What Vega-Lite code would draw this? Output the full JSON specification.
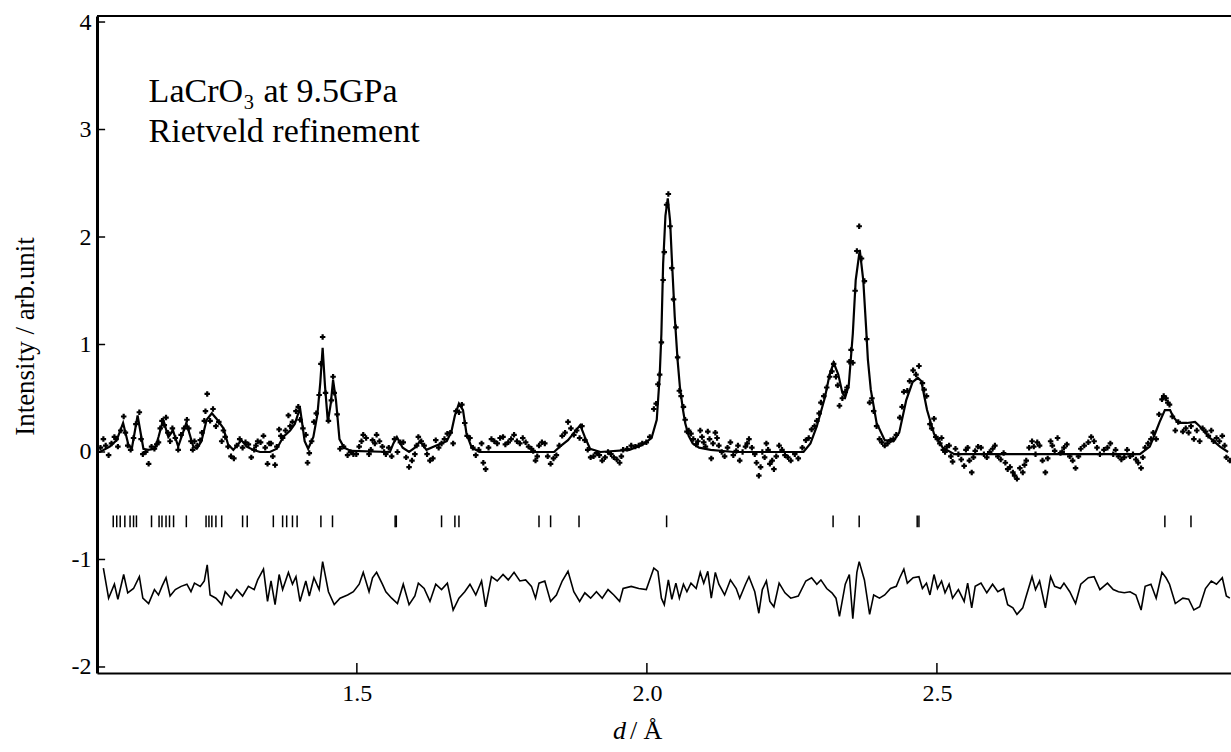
{
  "$schema": "https://vega.github.io/schema/vega-lite/v6.json",
  "width": 1134,
  "height": 657,
  "autosize": {"type": "none"},
  "padding": {"left": 97, "top": 16, "right": 0, "bottom": 79},
  "background": "white",
  "config": {
    "view": {"stroke": null},
    "font": "Liberation Serif",
    "axis": {"labelFont": "Liberation Serif", "titleFont": "Liberation Serif", "titleFontWeight": "normal", "labelColor": "black", "titleColor": "black", "domainColor": "black", "tickColor": "black", "grid": false}
  },
  "datasets": {
    "calc": [
      {"d":1.052,"v":0.0},{"d":1.057,"v":0.0},{"d":1.074,"v":0.05},{"d":1.086,"v":0.11},{"d":1.097,"v":0.27},{"d":1.106,"v":0.07},{"d":1.112,"v":0.03},{"d":1.122,"v":0.34},{"d":1.132,"v":0.03},{"d":1.140,"v":0.02},{"d":1.152,"v":0.03},{"d":1.158,"v":0.14},{"d":1.166,"v":0.30},{"d":1.175,"v":0.14},{"d":1.183,"v":0.20},{"d":1.192,"v":0.05},{"d":1.206,"v":0.27},{"d":1.218,"v":0.05},{"d":1.224,"v":0.03},{"d":1.232,"v":0.10},{"d":1.241,"v":0.30},{"d":1.250,"v":0.36},{"d":1.258,"v":0.31},{"d":1.270,"v":0.22},{"d":1.278,"v":0.07},{"d":1.287,"v":0.02},{"d":1.301,"v":0.11},{"d":1.310,"v":0.05},{"d":1.321,"v":0.02},{"d":1.333,"v":0.0},{"d":1.350,"v":0.0},{"d":1.362,"v":0.03},{"d":1.373,"v":0.14},{"d":1.385,"v":0.20},{"d":1.393,"v":0.26},{"d":1.402,"v":0.41},{"d":1.410,"v":0.10},{"d":1.416,"v":0.03},{"d":1.425,"v":0.14},{"d":1.432,"v":0.35},{"d":1.437,"v":0.65},{"d":1.441,"v":0.97},{"d":1.445,"v":0.62},{"d":1.450,"v":0.28},{"d":1.455,"v":0.45},{"d":1.459,"v":0.67},{"d":1.464,"v":0.48},{"d":1.470,"v":0.12},{"d":1.478,"v":0.04},{"d":1.490,"v":0.01},{"d":1.557,"v":0.0},{"d":1.563,"v":0.08},{"d":1.569,"v":0.14},{"d":1.579,"v":0.04},{"d":1.590,"v":0.0},{"d":1.600,"v":0.04},{"d":1.609,"v":0.10},{"d":1.620,"v":0.02},{"d":1.637,"v":0.06},{"d":1.655,"v":0.10},{"d":1.663,"v":0.19},{"d":1.669,"v":0.34},{"d":1.676,"v":0.45},{"d":1.683,"v":0.39},{"d":1.689,"v":0.17},{"d":1.698,"v":0.04},{"d":1.712,"v":0.0},{"d":1.840,"v":0.0},{"d":1.850,"v":0.05},{"d":1.864,"v":0.11},{"d":1.876,"v":0.19},{"d":1.885,"v":0.25},{"d":1.893,"v":0.14},{"d":1.902,"v":0.03},{"d":1.920,"v":0.0},{"d":1.970,"v":0.02},{"d":1.993,"v":0.07},{"d":2.008,"v":0.13},{"d":2.017,"v":0.30},{"d":2.022,"v":0.70},{"d":2.025,"v":1.10},{"d":2.028,"v":1.75},{"d":2.032,"v":2.20},{"d":2.036,"v":2.36},{"d":2.040,"v":2.15},{"d":2.043,"v":1.80},{"d":2.048,"v":1.26},{"d":2.053,"v":0.85},{"d":2.057,"v":0.60},{"d":2.062,"v":0.40},{"d":2.066,"v":0.27},{"d":2.072,"v":0.15},{"d":2.079,"v":0.08},{"d":2.090,"v":0.04},{"d":2.110,"v":0.02},{"d":2.150,"v":0.0},{"d":2.270,"v":0.0},{"d":2.282,"v":0.08},{"d":2.293,"v":0.24},{"d":2.307,"v":0.51},{"d":2.315,"v":0.72},{"d":2.322,"v":0.83},{"d":2.330,"v":0.72},{"d":2.337,"v":0.55},{"d":2.342,"v":0.51},{"d":2.348,"v":0.62},{"d":2.355,"v":1.10},{"d":2.360,"v":1.60},{"d":2.367,"v":1.88},{"d":2.373,"v":1.60},{"d":2.378,"v":1.15},{"d":2.381,"v":0.86},{"d":2.386,"v":0.58},{"d":2.396,"v":0.27},{"d":2.410,"v":0.11},{"d":2.425,"v":0.10},{"d":2.435,"v":0.18},{"d":2.447,"v":0.48},{"d":2.458,"v":0.65},{"d":2.467,"v":0.69},{"d":2.473,"v":0.66},{"d":2.483,"v":0.39},{"d":2.495,"v":0.17},{"d":2.510,"v":0.04},{"d":2.530,"v":-0.02},{"d":2.850,"v":-0.02},{"d":2.867,"v":0.05},{"d":2.876,"v":0.17},{"d":2.884,"v":0.28},{"d":2.893,"v":0.39},{"d":2.902,"v":0.39},{"d":2.907,"v":0.33},{"d":2.916,"v":0.27},{"d":2.931,"v":0.27},{"d":2.945,"v":0.28},{"d":2.953,"v":0.24},{"d":2.971,"v":0.13},{"d":2.988,"v":0.05},{"d":3.002,"v":0.0}
    ],
    "obs": [
      {"d":1.063,"v":0.12},{"d":1.072,"v":-0.03},{"d":1.082,"v":0.14},{"d":1.088,"v":0.05},{"d":1.098,"v":0.33},{"d":1.105,"v":0.06},{"d":1.115,"v":0.13},{"d":1.125,"v":0.37},{"d":1.131,"v":-0.02},{"d":1.141,"v":-0.11},{"d":1.151,"v":0.03},{"d":1.158,"v":0.09},{"d":1.164,"v":0.29},{"d":1.171,"v":0.32},{"d":1.178,"v":0.10},{"d":1.187,"v":0.13},{"d":1.197,"v":0.16},{"d":1.207,"v":0.30},{"d":1.214,"v":0.10},{"d":1.220,"v":0.10},{"d":1.230,"v":0.11},{"d":1.237,"v":0.29},{"d":1.242,"v":0.54},{"d":1.247,"v":0.29},{"d":1.257,"v":0.24},{"d":1.267,"v":0.10},{"d":1.273,"v":0.14},{"d":1.283,"v":-0.04},{"d":1.293,"v":0.06},{"d":1.303,"v":0.04},{"d":1.313,"v":0.07},{"d":1.323,"v":0.02},{"d":1.329,"v":0.10},{"d":1.339,"v":0.15},{"d":1.346,"v":-0.11},{"d":1.352,"v":0.08},{"d":1.359,"v":-0.12},{"d":1.366,"v":0.21},{"d":1.372,"v":0.13},{"d":1.382,"v":0.34},{"d":1.389,"v":0.28},{"d":1.395,"v":0.38},{"d":1.402,"v":0.30},{"d":1.412,"v":0.16},{"d":1.418,"v":-0.01},{"d":1.426,"v":0.28},{"d":1.435,"v":0.53},{"d":1.441,"v":1.07},{"d":1.451,"v":0.29},{"d":1.461,"v":0.55},{"d":1.471,"v":0.03},{"d":1.484,"v":-0.03},{"d":1.494,"v":-0.02},{"d":1.504,"v":0.05},{"d":1.511,"v":0.16},{"d":1.521,"v":-0.02},{"d":1.527,"v":0.11},{"d":1.534,"v":0.16},{"d":1.544,"v":0.05},{"d":1.550,"v":-0.02},{"d":1.560,"v":-0.04},{"d":1.570,"v":0.00},{"d":1.580,"v":0.09},{"d":1.590,"v":-0.14},{"d":1.600,"v":-0.02},{"d":1.606,"v":0.14},{"d":1.616,"v":0.06},{"d":1.626,"v":-0.08},{"d":1.636,"v":0.11},{"d":1.646,"v":0.08},{"d":1.656,"v":0.17},{"d":1.666,"v":0.08},{"d":1.676,"v":0.37},{"d":1.686,"v":0.27},{"d":1.695,"v":0.13},{"d":1.705,"v":-0.03},{"d":1.715,"v":0.08},{"d":1.722,"v":-0.16},{"d":1.732,"v":0.12},{"d":1.742,"v":0.08},{"d":1.752,"v":0.14},{"d":1.761,"v":0.09},{"d":1.771,"v":0.16},{"d":1.781,"v":0.08},{"d":1.791,"v":0.09},{"d":1.801,"v":0.03},{"d":1.808,"v":-0.08},{"d":1.814,"v":0.06},{"d":1.824,"v":0.08},{"d":1.834,"v":-0.11},{"d":1.844,"v":-0.03},{"d":1.854,"v":0.15},{"d":1.864,"v":0.28},{"d":1.874,"v":0.16},{"d":1.884,"v":0.13},{"d":1.893,"v":0.11},{"d":1.903,"v":-0.05},{"d":1.913,"v":-0.01},{"d":1.923,"v":-0.08},{"d":1.933,"v":0.00},{"d":1.943,"v":-0.05},{"d":1.953,"v":-0.10},{"d":1.959,"v":0.02},{"d":1.973,"v":0.06},{"d":1.986,"v":0.06},{"d":1.999,"v":0.09},{"d":2.012,"v":0.40},{"d":2.019,"v":0.63},{"d":2.025,"v":1.02},{"d":2.030,"v":1.86},{"d":2.037,"v":2.40},{"d":2.043,"v":1.71},{"d":2.050,"v":1.16},{"d":2.056,"v":0.57},{"d":2.063,"v":0.42},{"d":2.069,"v":0.19},{"d":2.076,"v":0.17},{"d":2.085,"v":0.07},{"d":2.092,"v":0.20},{"d":2.098,"v":0.09},{"d":2.105,"v":0.19},{"d":2.111,"v":-0.06},{"d":2.118,"v":0.18},{"d":2.124,"v":0.06},{"d":2.134,"v":-0.04},{"d":2.144,"v":0.09},{"d":2.154,"v":0.01},{"d":2.160,"v":-0.08},{"d":2.170,"v":0.05},{"d":2.176,"v":0.12},{"d":2.186,"v":-0.02},{"d":2.193,"v":-0.22},{"d":2.199,"v":0.00},{"d":2.206,"v":0.08},{"d":2.212,"v":-0.11},{"d":2.219,"v":-0.16},{"d":2.228,"v":0.06},{"d":2.238,"v":-0.03},{"d":2.248,"v":-0.08},{"d":2.261,"v":-0.06},{"d":2.274,"v":0.11},{"d":2.284,"v":0.21},{"d":2.293,"v":0.29},{"d":2.300,"v":0.46},{"d":2.310,"v":0.60},{"d":2.319,"v":0.75},{"d":2.326,"v":0.70},{"d":2.332,"v":0.43},{"d":2.342,"v":0.56},{"d":2.349,"v":0.84},{"d":2.355,"v":0.83},{"d":2.362,"v":1.87},{"d":2.366,"v":2.10},{"d":2.375,"v":1.59},{"d":2.384,"v":0.46},{"d":2.391,"v":0.38},{"d":2.401,"v":0.12},{"d":2.410,"v":0.06},{"d":2.420,"v":0.11},{"d":2.430,"v":0.16},{"d":2.436,"v":0.32},{"d":2.443,"v":0.56},{"d":2.449,"v":0.57},{"d":2.459,"v":0.76},{"d":2.469,"v":0.80},{"d":2.475,"v":0.64},{"d":2.482,"v":0.52},{"d":2.488,"v":0.26},{"d":2.495,"v":0.31},{"d":2.501,"v":0.12},{"d":2.508,"v":0.13},{"d":2.514,"v":0.00},{"d":2.521,"v":0.06},{"d":2.527,"v":-0.09},{"d":2.537,"v":-0.02},{"d":2.547,"v":-0.13},{"d":2.553,"v":0.04},{"d":2.560,"v":-0.19},{"d":2.566,"v":0.01},{"d":2.576,"v":0.04},{"d":2.586,"v":-0.05},{"d":2.596,"v":0.03},{"d":2.605,"v":-0.04},{"d":2.615,"v":-0.01},{"d":2.622,"v":-0.16},{"d":2.631,"v":-0.19},{"d":2.638,"v":-0.25},{"d":2.648,"v":-0.19},{"d":2.654,"v":-0.08},{"d":2.664,"v":0.10},{"d":2.670,"v":-0.02},{"d":2.677,"v":0.06},{"d":2.687,"v":-0.19},{"d":2.696,"v":0.10},{"d":2.703,"v":0.01},{"d":2.713,"v":-0.01},{"d":2.719,"v":0.04},{"d":2.729,"v":-0.04},{"d":2.739,"v":-0.15},{"d":2.748,"v":0.03},{"d":2.761,"v":0.09},{"d":2.771,"v":0.10},{"d":2.781,"v":-0.02},{"d":2.794,"v":0.04},{"d":2.804,"v":-0.02},{"d":2.813,"v":-0.04},{"d":2.823,"v":-0.05},{"d":2.833,"v":-0.04},{"d":2.843,"v":-0.07},{"d":2.852,"v":-0.15},{"d":2.859,"v":0.04},{"d":2.869,"v":0.12},{"d":2.878,"v":0.12},{"d":2.888,"v":0.49},{"d":2.895,"v":0.50},{"d":2.901,"v":0.44},{"d":2.911,"v":0.20},{"d":2.924,"v":0.19},{"d":2.934,"v":0.18},{"d":2.943,"v":0.12},{"d":2.953,"v":0.10},{"d":2.963,"v":0.19},{"d":2.973,"v":0.20},{"d":2.982,"v":0.13},{"d":2.992,"v":0.15},{"d":2.999,"v":-0.05},{"d":3.005,"v":-0.08},
      {"d":1.058,"v":0.04},{"d":1.067,"v":0.06},{"d":1.077,"v":0.08},{"d":1.085,"v":0.12},{"d":1.093,"v":0.20},{"d":1.101,"v":0.18},{"d":1.110,"v":0.02},{"d":1.119,"v":0.26},{"d":1.128,"v":0.12},{"d":1.136,"v":0.00},{"d":1.146,"v":0.05},{"d":1.155,"v":0.07},{"d":1.161,"v":0.22},{"d":1.168,"v":0.25},{"d":1.174,"v":0.18},{"d":1.182,"v":0.22},{"d":1.192,"v":0.02},{"d":1.202,"v":0.22},{"d":1.210,"v":0.22},{"d":1.217,"v":0.02},{"d":1.225,"v":0.06},{"d":1.233,"v":0.18},{"d":1.239,"v":0.38},{"d":1.252,"v":0.40},{"d":1.262,"v":0.28},{"d":1.270,"v":0.20},{"d":1.278,"v":0.05},{"d":1.288,"v":-0.06},{"d":1.298,"v":0.12},{"d":1.308,"v":0.09},{"d":1.318,"v":-0.05},{"d":1.326,"v":0.06},{"d":1.334,"v":0.09},{"d":1.342,"v":0.04},{"d":1.349,"v":0.08},{"d":1.355,"v":-0.04},{"d":1.362,"v":0.05},{"d":1.369,"v":0.15},{"d":1.377,"v":0.20},{"d":1.385,"v":0.24},{"d":1.399,"v":0.42},{"d":1.407,"v":0.22},{"d":1.415,"v":-0.10},{"d":1.422,"v":0.10},{"d":1.430,"v":0.36},{"d":1.438,"v":0.82},{"d":1.446,"v":0.55},{"d":1.456,"v":0.48},{"d":1.459,"v":0.70},{"d":1.466,"v":0.35},{"d":1.477,"v":0.05},{"d":1.489,"v":0.00},{"d":1.499,"v":-0.02},
      {"d":1.508,"v":0.10},{"d":1.516,"v":0.13},{"d":1.524,"v":0.02},{"d":1.531,"v":0.08},{"d":1.539,"v":0.10},{"d":1.547,"v":0.00},{"d":1.555,"v":0.04},{"d":1.565,"v":0.12},{"d":1.575,"v":0.09},{"d":1.585,"v":-0.05},{"d":1.595,"v":-0.08},{"d":1.603,"v":0.06},{"d":1.611,"v":0.10},{"d":1.621,"v":-0.02},{"d":1.631,"v":-0.06},{"d":1.641,"v":0.04},{"d":1.651,"v":0.12},{"d":1.661,"v":0.18},{"d":1.671,"v":0.38},{"d":1.681,"v":0.44},{"d":1.690,"v":0.15},{"d":1.700,"v":0.04},{"d":1.710,"v":0.02},{"d":1.718,"v":-0.10},{"d":1.727,"v":0.04},{"d":1.737,"v":0.10},{"d":1.747,"v":0.13},{"d":1.756,"v":0.07},{"d":1.766,"v":0.12},{"d":1.776,"v":0.10},{"d":1.786,"v":0.13},{"d":1.796,"v":0.05},{"d":1.804,"v":0.01},{"d":1.811,"v":-0.04},{"d":1.819,"v":0.09},{"d":1.829,"v":-0.04},{"d":1.839,"v":-0.06},{"d":1.849,"v":0.06},{"d":1.859,"v":0.18},{"d":1.869,"v":0.22},{"d":1.879,"v":0.20},{"d":1.888,"v":0.24},{"d":1.898,"v":0.02},{"d":1.908,"v":-0.04},{"d":1.918,"v":-0.03},{"d":1.928,"v":-0.05},{"d":1.938,"v":-0.02},{"d":1.948,"v":-0.07},{"d":1.956,"v":-0.04},{"d":1.966,"v":0.03},{"d":1.980,"v":0.05},{"d":1.992,"v":0.08},{"d":2.005,"v":0.14},
      {"d":2.016,"v":0.45},{"d":2.022,"v":0.72},{"d":2.028,"v":1.60},{"d":2.034,"v":2.30},{"d":2.040,"v":2.10},{"d":2.046,"v":1.42},{"d":2.053,"v":0.88},{"d":2.059,"v":0.52},{"d":2.066,"v":0.30},{"d":2.072,"v":0.20},{"d":2.080,"v":0.12},{"d":2.088,"v":0.10},{"d":2.095,"v":0.14},{"d":2.101,"v":0.05},{"d":2.108,"v":0.12},{"d":2.114,"v":0.08},{"d":2.121,"v":0.13},{"d":2.129,"v":0.00},{"d":2.139,"v":0.04},{"d":2.149,"v":-0.03},{"d":2.157,"v":0.06},{"d":2.165,"v":0.00},{"d":2.173,"v":0.08},{"d":2.181,"v":0.04},{"d":2.189,"v":-0.10},{"d":2.196,"v":-0.14},{"d":2.203,"v":-0.05},{"d":2.209,"v":0.02},{"d":2.216,"v":-0.08},{"d":2.223,"v":-0.04},{"d":2.233,"v":0.02},{"d":2.243,"v":-0.05},{"d":2.255,"v":-0.02},{"d":2.268,"v":0.04},{"d":2.279,"v":0.13},{"d":2.289,"v":0.24},{"d":2.297,"v":0.36},{"d":2.305,"v":0.52},{"d":2.315,"v":0.70},{"d":2.322,"v":0.82},{"d":2.329,"v":0.62},{"d":2.337,"v":0.50},{"d":2.345,"v":0.60},{"d":2.352,"v":0.95},{"d":2.359,"v":1.50},{"d":2.370,"v":1.80},{"d":2.379,"v":1.05},{"d":2.388,"v":0.50},{"d":2.396,"v":0.24},{"d":2.405,"v":0.09},{"d":2.415,"v":0.08},{"d":2.425,"v":0.12},{"d":2.440,"v":0.42},{"d":2.453,"v":0.66},{"d":2.464,"v":0.72},{"d":2.478,"v":0.58},{"d":2.491,"v":0.22},{"d":2.498,"v":0.14},
      {"d":2.505,"v":0.08},{"d":2.511,"v":0.02},{"d":2.517,"v":0.05},{"d":2.524,"v":-0.04},{"d":2.532,"v":0.03},{"d":2.542,"v":-0.07},{"d":2.550,"v":0.02},{"d":2.556,"v":-0.08},{"d":2.563,"v":-0.05},{"d":2.571,"v":0.05},{"d":2.581,"v":-0.02},{"d":2.591,"v":0.00},{"d":2.600,"v":0.06},{"d":2.610,"v":-0.07},{"d":2.618,"v":-0.10},{"d":2.626,"v":-0.14},{"d":2.634,"v":-0.22},{"d":2.643,"v":-0.15},{"d":2.651,"v":-0.12},{"d":2.659,"v":0.04},{"d":2.667,"v":0.05},{"d":2.673,"v":0.09},{"d":2.682,"v":-0.08},{"d":2.691,"v":-0.06},{"d":2.699,"v":0.06},{"d":2.708,"v":0.13},{"d":2.716,"v":0.00},{"d":2.724,"v":0.07},{"d":2.734,"v":-0.08},{"d":2.744,"v":-0.04},{"d":2.754,"v":0.06},{"d":2.766,"v":0.14},{"d":2.776,"v":0.04},{"d":2.788,"v":0.02},{"d":2.799,"v":0.08},{"d":2.808,"v":0.02},{"d":2.818,"v":-0.07},{"d":2.828,"v":0.02},{"d":2.838,"v":-0.02},{"d":2.847,"v":-0.10},{"d":2.855,"v":-0.05},{"d":2.864,"v":0.08},{"d":2.873,"v":0.18},{"d":2.883,"v":0.35},{"d":2.891,"v":0.52},{"d":2.898,"v":0.46},{"d":2.906,"v":0.33},{"d":2.916,"v":0.28},{"d":2.929,"v":0.22},{"d":2.938,"v":0.24},{"d":2.948,"v":0.20},{"d":2.958,"v":0.22},{"d":2.968,"v":0.15},{"d":2.977,"v":0.10},{"d":2.987,"v":0.10},{"d":2.996,"v":0.06}
    ],
    "diff": [
      {"d":1.063,"v":-1.08},{"d":1.072,"v":-1.36},{"d":1.082,"v":-1.23},{"d":1.088,"v":-1.37},{"d":1.098,"v":-1.14},{"d":1.105,"v":-1.31},{"d":1.115,"v":-1.27},{"d":1.125,"v":-1.16},{"d":1.131,"v":-1.36},{"d":1.141,"v":-1.41},{"d":1.151,"v":-1.28},{"d":1.158,"v":-1.33},{"d":1.164,"v":-1.25},{"d":1.171,"v":-1.17},{"d":1.178,"v":-1.34},{"d":1.187,"v":-1.28},{"d":1.197,"v":-1.25},{"d":1.207,"v":-1.23},{"d":1.214,"v":-1.30},{"d":1.220,"v":-1.22},{"d":1.230,"v":-1.25},{"d":1.237,"v":-1.20},{"d":1.242,"v":-1.05},{"d":1.247,"v":-1.33},{"d":1.257,"v":-1.36},{"d":1.267,"v":-1.42},{"d":1.273,"v":-1.30},{"d":1.283,"v":-1.36},{"d":1.293,"v":-1.28},{"d":1.303,"v":-1.34},{"d":1.313,"v":-1.25},{"d":1.323,"v":-1.28},{"d":1.329,"v":-1.19},{"d":1.339,"v":-1.09},{"d":1.346,"v":-1.39},{"d":1.352,"v":-1.20},{"d":1.359,"v":-1.42},{"d":1.366,"v":-1.14},{"d":1.372,"v":-1.28},{"d":1.382,"v":-1.12},{"d":1.389,"v":-1.23},{"d":1.395,"v":-1.16},{"d":1.402,"v":-1.39},{"d":1.412,"v":-1.20},{"d":1.418,"v":-1.34},{"d":1.426,"v":-1.17},{"d":1.435,"v":-1.28},{"d":1.441,"v":-1.02},{"d":1.451,"v":-1.30},{"d":1.461,"v":-1.42},{"d":1.471,"v":-1.36},{"d":1.484,"v":-1.33},{"d":1.494,"v":-1.30},{"d":1.504,"v":-1.23},{"d":1.511,"v":-1.12},{"d":1.521,"v":-1.30},{"d":1.527,"v":-1.17},{"d":1.534,"v":-1.12},{"d":1.544,"v":-1.23},{"d":1.550,"v":-1.30},{"d":1.560,"v":-1.36},{"d":1.570,"v":-1.41},{"d":1.580,"v":-1.23},{"d":1.590,"v":-1.42},{"d":1.600,"v":-1.34},{"d":1.606,"v":-1.22},{"d":1.616,"v":-1.27},{"d":1.626,"v":-1.39},{"d":1.636,"v":-1.23},{"d":1.646,"v":-1.28},{"d":1.656,"v":-1.22},{"d":1.666,"v":-1.47},{"d":1.676,"v":-1.36},{"d":1.686,"v":-1.30},{"d":1.695,"v":-1.23},{"d":1.705,"v":-1.33},{"d":1.715,"v":-1.20},{"d":1.722,"v":-1.44},{"d":1.732,"v":-1.16},{"d":1.742,"v":-1.20},{"d":1.752,"v":-1.14},{"d":1.761,"v":-1.19},{"d":1.771,"v":-1.12},{"d":1.781,"v":-1.20},{"d":1.791,"v":-1.19},{"d":1.801,"v":-1.25},{"d":1.808,"v":-1.36},{"d":1.814,"v":-1.22},{"d":1.824,"v":-1.20},{"d":1.834,"v":-1.39},{"d":1.844,"v":-1.33},{"d":1.854,"v":-1.20},{"d":1.864,"v":-1.11},{"d":1.874,"v":-1.30},{"d":1.884,"v":-1.39},{"d":1.893,"v":-1.31},{"d":1.903,"v":-1.36},{"d":1.913,"v":-1.30},{"d":1.923,"v":-1.36},{"d":1.933,"v":-1.28},{"d":1.943,"v":-1.33},{"d":1.953,"v":-1.39},{"d":1.959,"v":-1.27},{"d":1.973,"v":-1.25},{"d":1.986,"v":-1.27},{"d":1.999,"v":-1.28},{"d":2.012,"v":-1.08},{"d":2.019,"v":-1.11},{"d":2.025,"v":-1.36},{"d":2.030,"v":-1.42},{"d":2.037,"v":-1.19},{"d":2.043,"v":-1.37},{"d":2.050,"v":-1.22},{"d":2.056,"v":-1.36},{"d":2.063,"v":-1.23},{"d":2.069,"v":-1.30},{"d":2.076,"v":-1.22},{"d":2.085,"v":-1.27},{"d":2.092,"v":-1.12},{"d":2.098,"v":-1.22},{"d":2.105,"v":-1.11},{"d":2.111,"v":-1.36},{"d":2.118,"v":-1.12},{"d":2.124,"v":-1.23},{"d":2.134,"v":-1.33},{"d":2.144,"v":-1.19},{"d":2.154,"v":-1.27},{"d":2.160,"v":-1.36},{"d":2.170,"v":-1.23},{"d":2.176,"v":-1.16},{"d":2.186,"v":-1.30},{"d":2.193,"v":-1.50},{"d":2.199,"v":-1.28},{"d":2.206,"v":-1.20},{"d":2.212,"v":-1.39},{"d":2.219,"v":-1.44},{"d":2.228,"v":-1.22},{"d":2.238,"v":-1.31},{"d":2.248,"v":-1.36},{"d":2.261,"v":-1.34},{"d":2.274,"v":-1.20},{"d":2.284,"v":-1.17},{"d":2.293,"v":-1.23},{"d":2.300,"v":-1.19},{"d":2.310,"v":-1.27},{"d":2.319,"v":-1.31},{"d":2.326,"v":-1.36},{"d":2.332,"v":-1.53},{"d":2.342,"v":-1.23},{"d":2.349,"v":-1.14},{"d":2.355,"v":-1.55},{"d":2.362,"v":-1.12},{"d":2.366,"v":-1.02},{"d":2.375,"v":-1.19},{"d":2.384,"v":-1.51},{"d":2.391,"v":-1.33},{"d":2.401,"v":-1.36},{"d":2.410,"v":-1.33},{"d":2.420,"v":-1.27},{"d":2.430,"v":-1.25},{"d":2.436,"v":-1.17},{"d":2.443,"v":-1.09},{"d":2.449,"v":-1.22},{"d":2.459,"v":-1.17},{"d":2.469,"v":-1.16},{"d":2.475,"v":-1.27},{"d":2.482,"v":-1.22},{"d":2.488,"v":-1.33},{"d":2.495,"v":-1.14},{"d":2.501,"v":-1.27},{"d":2.508,"v":-1.20},{"d":2.514,"v":-1.31},{"d":2.521,"v":-1.23},{"d":2.527,"v":-1.36},{"d":2.537,"v":-1.28},{"d":2.547,"v":-1.39},{"d":2.553,"v":-1.22},{"d":2.560,"v":-1.45},{"d":2.566,"v":-1.25},{"d":2.576,"v":-1.22},{"d":2.586,"v":-1.31},{"d":2.596,"v":-1.23},{"d":2.605,"v":-1.30},{"d":2.615,"v":-1.27},{"d":2.622,"v":-1.42},{"d":2.631,"v":-1.45},{"d":2.638,"v":-1.51},{"d":2.648,"v":-1.45},{"d":2.654,"v":-1.34},{"d":2.664,"v":-1.16},{"d":2.670,"v":-1.28},{"d":2.677,"v":-1.20},{"d":2.687,"v":-1.45},{"d":2.696,"v":-1.16},{"d":2.703,"v":-1.25},{"d":2.713,"v":-1.27},{"d":2.719,"v":-1.22},{"d":2.729,"v":-1.30},{"d":2.739,"v":-1.41},{"d":2.748,"v":-1.23},{"d":2.761,"v":-1.17},{"d":2.771,"v":-1.16},{"d":2.781,"v":-1.28},{"d":2.794,"v":-1.22},{"d":2.804,"v":-1.28},{"d":2.813,"v":-1.30},{"d":2.823,"v":-1.31},{"d":2.833,"v":-1.30},{"d":2.843,"v":-1.33},{"d":2.852,"v":-1.47},{"d":2.859,"v":-1.25},{"d":2.869,"v":-1.23},{"d":2.878,"v":-1.36},{"d":2.888,"v":-1.12},{"d":2.895,"v":-1.17},{"d":2.901,"v":-1.23},{"d":2.911,"v":-1.41},{"d":2.924,"v":-1.36},{"d":2.934,"v":-1.37},{"d":2.943,"v":-1.47},{"d":2.953,"v":-1.44},{"d":2.963,"v":-1.27},{"d":2.973,"v":-1.20},{"d":2.982,"v":-1.23},{"d":2.992,"v":-1.17},{"d":2.999,"v":-1.34},{"d":3.005,"v":-1.36}
    ],
    "refl": [
      {"d":1.080,"v":-0.59},{"d":1.086,"v":-0.59},{"d":1.092,"v":-0.59},{"d":1.100,"v":-0.59},{"d":1.109,"v":-0.59},{"d":1.115,"v":-0.59},{"d":1.120,"v":-0.59},{"d":1.146,"v":-0.59},{"d":1.159,"v":-0.59},{"d":1.164,"v":-0.59},{"d":1.171,"v":-0.59},{"d":1.177,"v":-0.59},{"d":1.184,"v":-0.59},{"d":1.206,"v":-0.59},{"d":1.240,"v":-0.59},{"d":1.245,"v":-0.59},{"d":1.250,"v":-0.59},{"d":1.257,"v":-0.59},{"d":1.267,"v":-0.59},{"d":1.303,"v":-0.59},{"d":1.311,"v":-0.59},{"d":1.356,"v":-0.59},{"d":1.372,"v":-0.59},{"d":1.379,"v":-0.59},{"d":1.389,"v":-0.59},{"d":1.397,"v":-0.59},{"d":1.438,"v":-0.59},{"d":1.458,"v":-0.59},{"d":1.566,"v":-0.59},{"d":1.568,"v":-0.59},{"d":1.646,"v":-0.59},{"d":1.669,"v":-0.59},{"d":1.676,"v":-0.59},{"d":1.814,"v":-0.59},{"d":1.834,"v":-0.59},{"d":1.883,"v":-0.59},{"d":2.034,"v":-0.59},{"d":2.321,"v":-0.59},{"d":2.366,"v":-0.59},{"d":2.466,"v":-0.59},{"d":2.469,"v":-0.59},{"d":2.893,"v":-0.59},{"d":2.938,"v":-0.59}
    ],
    "frame": [{"d": 1.052, "v": 4.056}, {"d": 3.007, "v": 4.056}],
    "xticks": [{"d": 1.5, "v": -2.056}, {"d": 2.0, "v": -2.056}, {"d": 2.5, "v": -2.056}],
    "yticks": [{"d": 1.052, "v": -2}, {"d": 1.052, "v": -1}, {"d": 1.052, "v": 0}, {"d": 1.052, "v": 1}, {"d": 1.052, "v": 2}, {"d": 1.052, "v": 3}, {"d": 1.052, "v": 4}],
    "notes": [
      {"d": 1.141, "v": 3.26, "t": "LaCrO\u2083 at 9.5GPa"},
      {"d": 1.141, "v": 2.88, "t": "Rietveld refinement"}
    ],
    "xt1": [{"d": 1.9638, "v": -2.6, "t": "d"}],
    "xt2": [{"d": 1.9707, "v": -2.6, "t": "/ \u00c5"}]
  },
  "encoding": {
    "x": {
      "field": "d", "type": "quantitative",
      "scale": {"domain": [1.052, 3.007], "nice": false, "zero": false},
      "axis": {"orient": "bottom", "values": [1.5, 2, 2.5], "format": ".1f", "ticks": false, "domainWidth": 2, "labelFontSize": 24, "labelPadding": 8, "labelFont": "Liberation Serif", "title": null}
    },
    "y": {
      "field": "v", "type": "quantitative",
      "scale": {"domain": [-2.056, 4.056], "nice": false, "zero": false},
      "axis": {"orient": "left", "values": [-2, -1, 0, 1, 2, 3, 4], "ticks": false, "domainWidth": 3, "labelFontSize": 24, "labelPadding": 6, "labelFont": "Liberation Serif", "labelExpr": "replace(datum.label, '\u2212', '-')", "title": "Intensity / arb.unit", "titleFontSize": 27, "titleAngle": -90, "titleAlign": "center", "titleBaseline": "middle", "titleX": -72, "titleY": 320}
    }
  },
  "layer": [
    {"data": {"name": "calc"}, "mark": {"type": "line", "color": "black", "strokeWidth": 2.2}},
    {"data": {"name": "obs"}, "mark": {"type": "point", "shape": "cross", "filled": true, "size": 30, "color": "black", "opacity": 1}},
    {"data": {"name": "diff"}, "mark": {"type": "line", "color": "black", "strokeWidth": 1.6}},
    {"data": {"name": "refl"}, "mark": {"type": "rule", "color": "black", "strokeWidth": 1.5}, "encoding": {"y2": {"datum": -0.70}}},
    {"data": {"name": "frame"}, "mark": {"type": "line", "color": "black", "strokeWidth": 2}},
    {"data": {"name": "xticks"}, "mark": {"type": "rule", "color": "black", "strokeWidth": 1.5}, "encoding": {"y2": {"datum": -1.963}}},
    {"data": {"name": "yticks"}, "mark": {"type": "rule", "color": "black", "strokeWidth": 1.5}, "encoding": {"x2": {"datum": 1.066}}},
    {"data": {"name": "notes"}, "mark": {"type": "text", "font": "Liberation Serif", "fontSize": 34, "align": "left", "baseline": "alphabetic", "color": "black"}, "encoding": {"text": {"field": "t"}}},
    {"data": {"name": "xt1"}, "mark": {"type": "text", "font": "Liberation Serif", "fontSize": 26, "fontStyle": "italic", "align": "right", "baseline": "middle", "color": "black"}, "encoding": {"text": {"field": "t"}}},
    {"data": {"name": "xt2"}, "mark": {"type": "text", "font": "Liberation Serif", "fontSize": 26, "align": "left", "baseline": "middle", "color": "black"}, "encoding": {"text": {"field": "t"}}}
  ]
}
